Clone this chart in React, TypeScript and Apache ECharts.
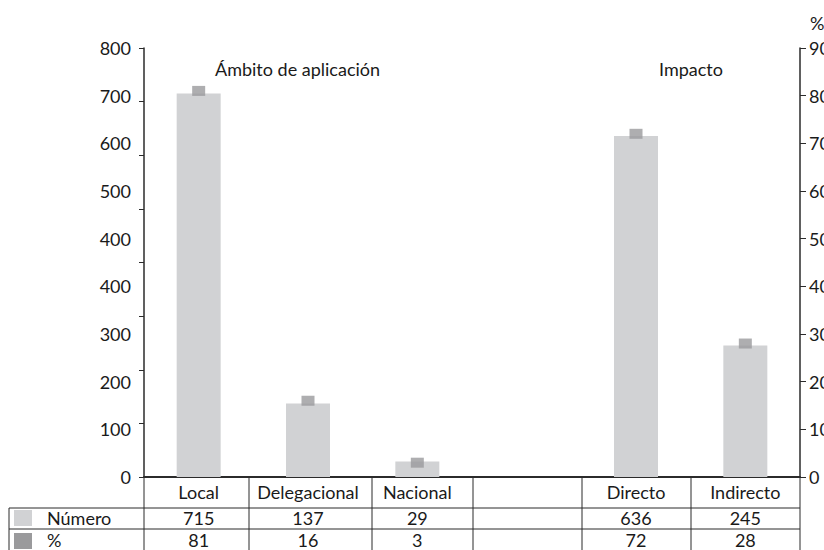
import React, { useEffect, useRef } from "react";
import * as echarts from "echarts";

const categories = ["Local", "Delegacional", "Nacional", "", "Directo", "Indirecto"];
const numeroValues = [715, 137, 29, null, 636, 245];
const percentValues = [81, 16, 3, null, 72, 28];
const leftTickLabels = ["0", "100", "200", "300", "400", "400", "500", "600", "700", "800"];
const rightTickLabels = ["0", "10", "20", "30", "40", "50", "60", "70", "80", "90"];
const groupTitles = ["Ámbito de aplicación", "Impacto"];
const rowLabels = ["Número", "%"];

const FONT = "Lato, 'Noto Sans', sans-serif";
const FS = 18;
const TEXT = "#1a1a1a";
const BAR = "#d1d2d4";
const MARK = "#9a9a9c";
const LINE = "#2b2b2b";

export default function App() {
  const ref = useRef<HTMLDivElement>(null);
  useEffect(() => {
    if (!ref.current) return;
    const chart = echarts.init(ref.current, null, { renderer: "svg" });
    const cellStr = (v: number | null) => (v === null ? "" : String(v));
    const tableX = [144, 249, 372, 473, 582, 691, 800];
    const graphics: any[] = [];
    tableX.forEach((x) =>
      graphics.push({
        type: "line",
        shape: { x1: x, y1: 477, x2: x, y2: 552 },
        style: { stroke: LINE, lineWidth: 1 },
      })
    );
    graphics.push({ type: "line", shape: { x1: 9, y1: 508, x2: 9, y2: 552 }, style: { stroke: LINE, lineWidth: 1 } });
    graphics.push({ type: "line", shape: { x1: 9, y1: 508, x2: 800, y2: 508 }, style: { stroke: LINE, lineWidth: 1 } });
    graphics.push({ type: "line", shape: { x1: 9, y1: 529, x2: 800, y2: 529 }, style: { stroke: LINE, lineWidth: 1 } });
    graphics.push({ type: "rect", shape: { x: 14, y: 510, width: 18, height: 16 }, style: { fill: BAR } });
    graphics.push({ type: "rect", shape: { x: 14, y: 533, width: 18, height: 16 }, style: { fill: MARK } });
    graphics.push({
      type: "text", x: 47, y: 518,
      style: { text: rowLabels[0], font: `${FS}px ${FONT}`, fill: TEXT, textVerticalAlign: "middle" },
    });
    graphics.push({
      type: "text", x: 47, y: 540,
      style: { text: rowLabels[1], font: `${FS}px ${FONT}`, fill: TEXT, textVerticalAlign: "middle" },
    });
    graphics.push({
      type: "text", x: 215, y: 69,
      style: { text: groupTitles[0], font: `${FS}px ${FONT}`, fill: TEXT, textVerticalAlign: "middle" },
    });
    graphics.push({
      type: "text", x: 691, y: 69,
      style: { text: groupTitles[1], font: `${FS}px ${FONT}`, fill: TEXT, textAlign: "center", textVerticalAlign: "middle" },
    });

    const hiddenX = {
      type: "category",
      data: categories,
      position: "bottom",
      axisLine: { show: false },
      axisTick: { show: false },
      splitLine: { show: false },
    };

    chart.setOption({
      animation: false,
      grid: { left: 144, right: 24, top: 48, bottom: 73, containLabel: false, outerBoundsMode: "none" },
      xAxis: [
        {
          type: "category",
          data: categories,
          position: "bottom",
          axisLine: { show: true, lineStyle: { color: LINE, width: 2 } },
          axisTick: { show: false },
          axisLabel: { interval: 0, margin: 6, fontFamily: FONT, fontSize: FS, color: TEXT },
        },
        {
          ...hiddenX,
          offset: 26,
          axisLabel: {
            interval: 0, margin: 6, fontFamily: FONT, fontSize: FS, color: TEXT,
            formatter: (_v: string, i: number) => cellStr(numeroValues[i]),
          },
        },
        {
          ...hiddenX,
          offset: 48,
          axisLabel: {
            interval: 0, margin: 6, fontFamily: FONT, fontSize: FS, color: TEXT,
            formatter: (_v: string, i: number) => cellStr(percentValues[i]),
          },
        },
      ],
      yAxis: [
        {
          type: "value",
          position: "left",
          min: 0,
          max: 800,
          interval: 100,
          axisLine: { show: true, lineStyle: { color: LINE, width: 1.5 } },
          axisTick: { show: true, length: 5, lineStyle: { color: LINE } },
          axisLabel: { show: false },
          splitLine: { show: false },
        },
        {
          type: "value",
          position: "right",
          min: 0,
          max: 90,
          interval: 10,
          name: "%",
          nameLocation: "end",
          nameGap: 16,
          nameTextStyle: { fontFamily: FONT, fontSize: FS, color: TEXT, align: "left", padding: [0, 0, 0, 10] },
          axisLine: { show: true, lineStyle: { color: LINE, width: 1.5 } },
          axisTick: { show: true, length: 6, lineStyle: { color: LINE } },
          axisLabel: {
            margin: 9, fontFamily: FONT, fontSize: FS, color: TEXT,
            formatter: (v: number) => rightTickLabels[Math.round(v / 10)] ?? "",
          },
          splitLine: { show: false },
        },
        {
          type: "value",
          position: "left",
          min: 0,
          max: 900,
          interval: 100,
          axisLine: { show: false },
          axisTick: { show: false },
          axisLabel: {
            margin: 13, fontFamily: FONT, fontSize: FS, color: TEXT,
            formatter: (v: number) => leftTickLabels[Math.round(v / 100)] ?? "",
          },
          splitLine: { show: false },
        },
      ],
      series: [
        {
          type: "bar",
          name: rowLabels[0],
          xAxisIndex: 0,
          yAxisIndex: 0,
          data: numeroValues,
          barWidth: 44,
          itemStyle: { color: BAR },
          z: 2,
        },
        {
          type: "scatter",
          name: rowLabels[1],
          xAxisIndex: 0,
          yAxisIndex: 1,
          data: percentValues,
          symbol: "rect",
          symbolSize: [13, 10],
          itemStyle: { color: MARK },
          z: 3,
        },
      ],
      graphic: graphics,
    });
    return () => chart.dispose();
  }, []);
  return (
    <div
      ref={ref}
      style={{ position: "absolute", left: 0, top: 0, width: 824, height: 550, background: "#fff" }}
    />
  );
}
